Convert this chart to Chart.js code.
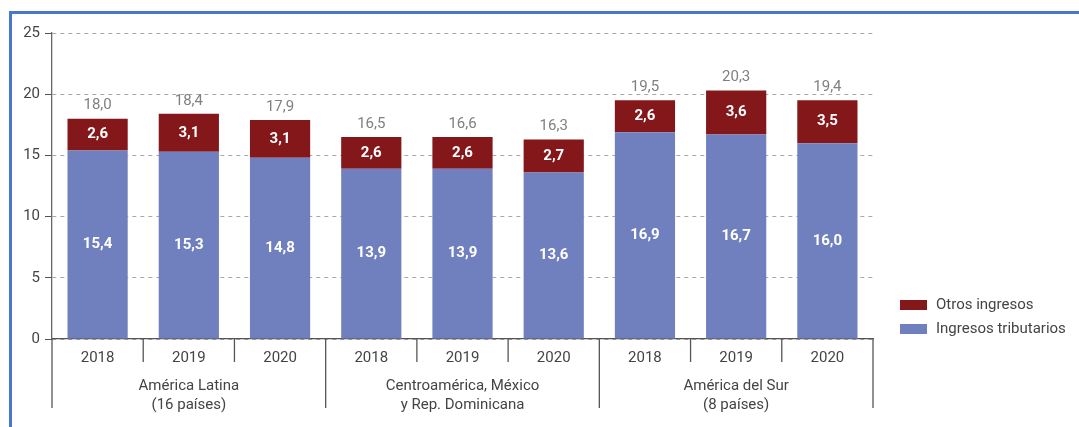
<!DOCTYPE html>
<html><head><meta charset="utf-8">
<script src="https://cdn.jsdelivr.net/npm/chart.js@4"></script>
<style>
html,body{margin:0;padding:0;background:#fff;}
#wrap{position:relative;width:1079px;height:427px;overflow:hidden;}
#frame{position:absolute;left:9px;top:11px;width:1100px;height:500px;border-left:3px solid #4a78c8;border-top:3px solid #4a78c8;box-sizing:border-box;}
canvas{position:absolute;left:0;top:0;}
</style></head>
<body><div id="wrap"><div id="frame"></div><canvas id="c" width="1079" height="427"></canvas></div>
<script>
const years = ["2018","2019","2020","2018","2019","2020","2018","2019","2020"];
const groups = [["América Latina","(16 países)"],["Centroamérica, México","y Rep. Dominicana"],["América del Sur","(8 países)"]];
const tributarios = [15.4,15.3,14.8,13.9,13.9,13.6,16.9,16.7,16.0];
const otros = [2.6,3.1,3.1,2.6,2.6,2.7,2.6,3.6,3.5];
const totales = [18.0,18.4,17.9,16.5,16.6,16.3,19.5,20.3,19.4];
const yTicks = [0,5,10,15,20,25];

const FONT = "Roboto, sans-serif";
const fmt = v => v.toFixed(1).replace('.', ',');

const overlay = {
  id:'overlay',
  afterDatasetsDraw(chart){
    const ctx = chart.ctx;
    const ca = chart.chartArea;
    const xs = chart.scales.x;
    ctx.save();
    ctx.textAlign='center'; ctx.textBaseline='middle';
    ctx.font = "bold 15px " + FONT;
    ctx.fillStyle = '#fff';
    chart.data.datasets.forEach((ds,di)=>{
      const meta = chart.getDatasetMeta(di);
      meta.data.forEach((el,i)=>{
        const cy = (el.y + el.base)/2;
        ctx.fillText(fmt(ds.data[i]), el.x, cy);
      });
    });
    ctx.font = "15px " + FONT;
    ctx.fillStyle = '#808080';
    const top = chart.getDatasetMeta(1);
    top.data.forEach((el,i)=>{
      ctx.fillText(fmt(totales[i]), el.x, el.y - 13);
    });
    ctx.strokeStyle = '#555'; ctx.lineWidth = 1.3;
    const n = years.length;
    for(let i=0;i<=n;i++){
      let x;
      if(i===0) x = ca.left; else if(i===n) x = ca.right;
      else x = (xs.getPixelForValue(i-1)+xs.getPixelForValue(i))/2;
      const isGroup = (i%3===0);
      ctx.beginPath();
      ctx.moveTo(x, ca.bottom);
      ctx.lineTo(x, ca.bottom + (isGroup ? 69 : 23));
      ctx.stroke();
    }
    ctx.font = "15px " + FONT;
    ctx.fillStyle = '#444';
    groups.forEach((g,gi)=>{
      const x1 = gi===0 ? ca.left : (xs.getPixelForValue(gi*3-1)+xs.getPixelForValue(gi*3))/2;
      const x2 = gi===2 ? ca.right : (xs.getPixelForValue(gi*3+2)+xs.getPixelForValue(gi*3+3))/2;
      const cx = (x1+x2)/2;
      ctx.fillText(g[0], cx, ca.bottom + 47);
      ctx.fillText(g[1], cx, ca.bottom + 66);
    });
    const leg = [[chart.data.datasets[1], 305],[chart.data.datasets[0], 329]];
    ctx.textAlign='left';
    ctx.font = "15px " + FONT;
    leg.forEach(([ds,y])=>{
      ctx.fillStyle = ds.backgroundColor;
      ctx.fillRect(900, y-5, 27, 10);
      ctx.fillStyle = '#444';
      ctx.fillText(ds.label, 936, y);
    });
    ctx.restore();
  }
};

new Chart(document.getElementById('c'), {
  type:'bar',
  data:{
    labels: years,
    datasets:[
      {label:'Ingresos tributarios', data: tributarios, backgroundColor:'#7080bf', categoryPercentage:1, barPercentage:0.66},
      {label:'Otros ingresos', data: otros, backgroundColor:'#841719', categoryPercentage:1, barPercentage:0.66}
    ]
  },
  options:{
    responsive:false, animation:false, devicePixelRatio:1,
    layout:{padding:{left:0, top:33, right:206, bottom:0}},
    plugins:{legend:{display:false}, tooltip:{enabled:false}},
    scales:{
      x:{stacked:true,
        grid:{display:false},
        border:{display:true, color:'#555', width:1.3},
        ticks:{color:'#444', font:{family:FONT, size:15}, padding:2, maxRotation:0},
        afterFit(s){ s.height = 88; }
      },
      y:{stacked:true, min:0, max:25,
        afterBuildTicks(s){ s.ticks = yTicks.map(v=>({value:v})); },
        grid:{color:'#a8a8a8', tickBorderDash:[], tickColor:'#555', tickLength:7, lineWidth:1},
        border:{display:true, color:'#666', width:1.3, dash:[4,4]},
        ticks:{color:'#444', font:{family:FONT, size:15}, padding:5},
        afterFit(s){ s.width = 52; }
      }
    }
  },
  plugins:[overlay]
});
</script></body></html>
